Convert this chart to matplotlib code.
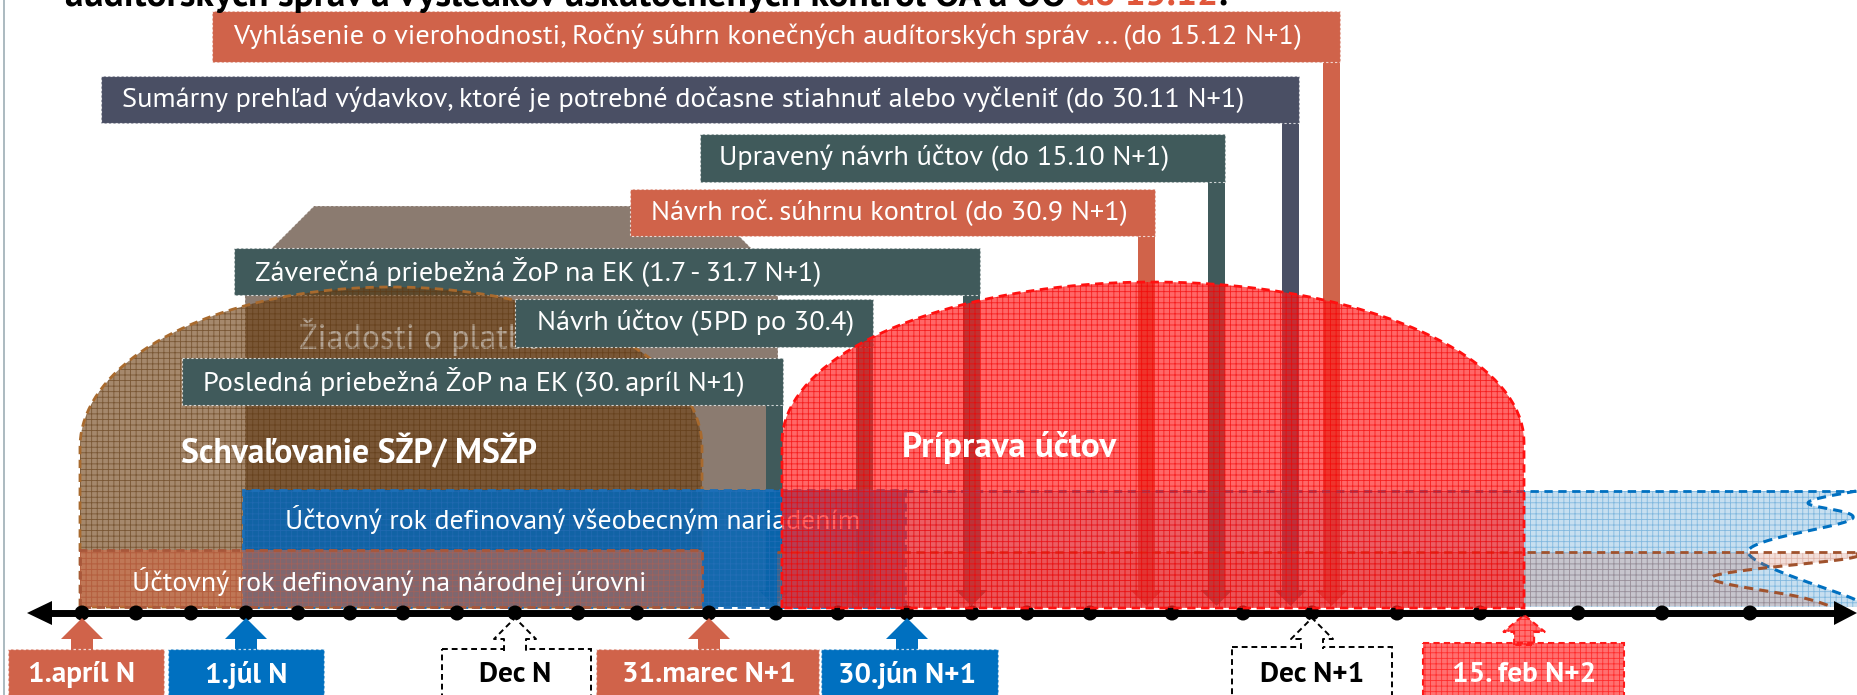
import matplotlib
matplotlib.use("Agg")
import matplotlib.pyplot as plt
from matplotlib.patches import Polygon, Rectangle, Circle
import numpy as np

# ---------------- data ----------------
title_main = "auditorských správ a výsledkov uskutočnených kontrol OA a OO"
title_red = "do 15.12"
title_end = "."

# timeline: one dot per month, apríl N ... máj N+2
timeline_months = ["apr N", "máj N", "jún N", "júl N", "aug N", "sep N", "okt N", "nov N", "dec N",
                   "jan N+1", "feb N+1", "mar N+1", "apr N+1", "máj N+1", "jún N+1", "júl N+1",
                   "aug N+1", "sep N+1", "okt N+1", "nov N+1", "dec N+1", "jan N+2", "feb N+2",
                   "mar N+2", "apr N+2", "máj N+2"]

deadline_labels = [
    "Vyhlásenie o vierohodnosti, Ročný súhrn konečných audítorských správ ... (do 15.12 N+1)",
    "Sumárny prehľad výdavkov, ktoré je potrebné dočasne stiahnuť alebo vyčleniť (do 30.11 N+1)",
    "Upravený návrh účtov (do 15.10 N+1)",
    "Návrh roč. súhrnu kontrol (do 30.9 N+1)",
    "Záverečná priebežná ŽoP na EK (1.7 - 31.7 N+1)",
    "Návrh účtov (5PD po 30.4)",
    "Posledná priebežná ŽoP na EK (30. apríl N+1)",
]
deadline_kind = ["orange", "navy", "teal", "orange", "teal", "teal", "teal"]

marker_labels = ["1.apríl N", "1.júl N", "Dec N", "31.marec N+1", "30.jún N+1", "Dec N+1", "15. feb N+2"]
marker_month = [0, 3, 8, 11, 14, 20, 22.45]
marker_kind = ["orange", "blue", "white", "orange", "blue", "white", "red"]

phase_labels = ["Schvaľovanie SŽP/ MSŽP", "Príprava účtov"]
band_labels = ["Účtovný rok definovaný všeobecným nariadením", "Účtovný rok definovaný na národnej úrovni"]
payment_label = "Žiadosti o platbu"

# ---------------- layout / style ----------------
W, H = 1858, 695
FONT = ["PT Sans", "Lato", "DejaVu Sans"]
COL = {"orange": "#D0634A", "navy": "#4A4F64", "teal": "#405A5B", "blue": "#0070C0",
       "white": "#FFFFFF", "red": "#FF3030"}
DOT_X = [82, 136, 191, 246, 298, 350, 403, 457, 515, 578, 637, 709, 776, 838, 907, 972,
         1027, 1090, 1172, 1243, 1312, 1397, 1480, 1578, 1662, 1750]
AXIS_Y = 613
# deadline boxes: x0, x1, y0, y1, text x
BOXES = [(212, 1340, 11, 62, 233), (101, 1299, 76, 123, 122), (700, 1225, 134, 182, 719),
         (630, 1155, 189, 236, 651), (234, 980, 248, 295, 255), (515, 873, 299, 347, 537),
         (182, 783, 358, 405, 203)]
MBOX = [(8, 164, 649), (168, 324, 649), (442, 591, 649), (596, 819, 649), (821, 998, 649),
        (1232, 1392, 647), (1423, 1624, 643)]

fig = plt.figure(figsize=(W / 100, H / 100), dpi=100)
ax = fig.add_axes([0, 0, 1, 1])
ax.set_xlim(0, W)
ax.set_ylim(H, 0)
ax.axis("off")
R = fig.canvas.get_renderer()
plt.rcParams["hatch.linewidth"] = 0.6


def fit_size(s, target, weight="normal", base=20.0):
    t = ax.text(0, 0, s, fontsize=base, family=FONT, fontweight=weight)
    w = t.get_window_extent(renderer=R).width
    t.remove()
    return base * target / w


def text_w(s, size, weight="normal"):
    t = ax.text(0, 0, s, fontsize=size, family=FONT, fontweight=weight)
    w = t.get_window_extent(renderer=R).width
    t.remove()
    return w


def smooth(pts, n=24):
    P = np.asarray(pts, float)
    P = np.vstack([P[0], P, P[-1]])
    out = []
    t = np.linspace(0, 1, n, endpoint=False)[:, None]
    for i in range(1, len(P) - 2):
        p0, p1, p2, p3 = P[i - 1], P[i], P[i + 1], P[i + 2]
        out.append(0.5 * ((2 * p1) + (-p0 + p2) * t + (2 * p0 - 5 * p1 + 4 * p2 - p3) * t ** 2
                          + (-p0 + 3 * p1 - 3 * p2 + p3) * t ** 3))
    out.append(P[-2][None])
    return np.vstack(out)


def textured(verts, face, hatch_col, z, edge=None, lw=2.0, ls=(0, (3, 2)), hatch="+++"):
    ax.add_patch(Polygon(verts, closed=True, facecolor=face, edgecolor="none", zorder=z))
    ax.add_patch(Polygon(verts, closed=True, facecolor="none", edgecolor=hatch_col, lw=0,
                         hatch=hatch, zorder=z + 0.02))
    if edge is not None:
        ax.add_patch(Polygon(verts, closed=True, facecolor="none", edgecolor=edge, lw=lw,
                             linestyle=ls, zorder=z + 0.03))


def dome(x0, x1, ytop, yside, ybot):
    th = np.linspace(np.pi, 0, 80)
    cx, a, b = (x0 + x1) / 2, (x1 - x0) / 2, yside - ytop
    arc = np.column_stack([cx + a * np.cos(th), yside - b * np.sin(th)])
    return np.vstack([[x0, ybot], arc, [x1, ybot]])


month_x = lambda m: np.interp(m, np.arange(len(timeline_months)), DOT_X)

# left slide border
ax.plot([4, 4], [0, H], color="#9DAEB5", lw=1.2, zorder=0.5)

# ---------------- title (cut at top) ----------------
ts = fit_size(title_main + " " + title_red + title_end, 1160, "bold")
sp = text_w("a a", ts, "bold") - text_w("aa", ts, "bold")
x = 65
TY = 6
ax.text(x, TY, title_main, fontsize=ts, family=FONT, fontweight="bold", color="black",
        va="baseline", ha="left", zorder=10)
x += text_w(title_main, ts, "bold") + sp
ax.text(x, TY, title_red, fontsize=ts, family=FONT, fontweight="bold", color="#E0563A",
        va="baseline", ha="left", zorder=10)
x += text_w(title_red, ts, "bold")
ax.text(x, TY, title_end, fontsize=ts, family=FONT, fontweight="bold", color="black",
        va="baseline", ha="left", zorder=10)

# ---------------- gray payment-request shape ----------------
gx0, gx1, gy0, gy1, ch = 245, 778, 206, 607, 69
gray = [(gx0, gy1), (gx0, gy0 + ch), (gx0 + ch, gy0), (gx1 - ch, gy0), (gx1, gy0 + ch), (gx1, gy1)]
ax.add_patch(Polygon(gray, closed=True, facecolor="#8B7B70", edgecolor=(1, 1, 1, 0.6), lw=0.8,
                     linestyle=(0, (2, 2)), zorder=1))
box_fs = fit_size(deadline_labels[0], 1066)

# ---------------- deadline boxes with connectors ----------------
BAR_W, HEAD_HW, HEAD_L, TIP = 17, 16, 16, 606
for lab, kind, (x0, x1, y0, y1, tx) in zip(deadline_labels, deadline_kind, BOXES):
    c = COL[kind]
    xc = x1 - BAR_W / 2
    conn = [(x1 - BAR_W, y1 - 1), (x1 - BAR_W, TIP - HEAD_L), (xc - HEAD_HW, TIP - HEAD_L), (xc, TIP),
            (xc + HEAD_HW, TIP - HEAD_L), (x1, TIP - HEAD_L), (x1, y1 - 1)]
    ax.add_patch(Polygon(conn, closed=True, facecolor=c, edgecolor="none", zorder=2))
    zb = 2.5 if lab.startswith("Záverečná") else 4
    ax.add_patch(Rectangle((x0, y0), x1 - x0, y1 - y0, facecolor=c, edgecolor=(1, 1, 1, 0.75),
                           lw=0.8, linestyle=(0, (2, 2)), zorder=zb))
    ax.text(tx, (y0 + y1) / 2, lab, fontsize=box_fs, family=FONT, color="white",
            va="center", ha="left", zorder=zb + 0.1)

# ---------------- brown dome (approval) ----------------
textured(dome(80, 702, 287, 447, 607), (0.43, 0.25, 0.07, 0.62), (0.36, 0.21, 0.06, 0.6), 3,
         edge="#A86A2E")
ax.text(299, 337, payment_label, fontsize=box_fs * 1.2, family=FONT, color="#B3A393",
        va="center", ha="left", zorder=3.01)

# ---------------- accounting-year bands ----------------
# blue (general regulation)
textured([(243, 607), (243, 490), (905, 490), (905, 607)], (0.0, 0.40, 0.72, 0.86),
         (0.2, 0.45, 0.75, 0.5), 5, edge="#1C6FB8", ls=(0, (3, 2)))
wave_b = smooth([(1856, 491), (1808, 503), (1852, 519), (1748, 552), (1856, 600), (1858, 607)])
textured(np.vstack([[(905, 607), (905, 491)], wave_b]), (0.0, 0.44, 0.75, 0.22),
         (0.0, 0.44, 0.75, 0.35), 5)
ax.plot([905, 1856], [491, 491], color="#0070C0", lw=2, ls=(0, (3, 2)), zorder=5.05)
ax.plot(wave_b[:, 0], wave_b[:, 1], color="#0070C0", lw=2.2, ls=(0, (3, 2)), zorder=5.05)

# national
textured([(80, 607), (80, 550), (702, 550), (702, 607)], (0.84, 0.42, 0.27, 0.56),
         (0.75, 0.35, 0.25, 0.45), 6, edge="#A9573A", ls=(0, (3, 2)))
wave_n = smooth([(1857, 553), (1845, 559), (1712, 577), (1800, 597), (1830, 606)])
textured(np.vstack([[(777, 607), (777, 552)], wave_n]), (0.78, 0.42, 0.32, 0.22),
         (0.70, 0.35, 0.25, 0.3), 6)
ax.plot([777, 1857], [552, 552], color="#A0522D", lw=2, ls=(0, (3, 2)), zorder=6.05)
ax.plot(wave_n[:, 0], wave_n[:, 1], color="#A0522D", lw=2.2, ls=(0, (3, 2)), zorder=6.05)

band_fs = fit_size(band_labels[1], 514)
ax.text(285, 520, band_labels[0], fontsize=fit_size(band_labels[0], 575), family=FONT,
        color="white", va="center", ha="left", zorder=6.3)
ax.text(132, 582, band_labels[1], fontsize=band_fs, family=FONT, color="white",
        va="center", ha="left", zorder=6.3)

# ---------------- timeline axis ----------------
ax.plot([45, 1840], [AXIS_Y, AXIS_Y], color="black", lw=5, solid_capstyle="butt", zorder=6.5)
ax.add_patch(Polygon([(27, AXIS_Y), (52, AXIS_Y - 12), (52, AXIS_Y + 12)], closed=True,
                     facecolor="black", edgecolor="none", zorder=6.5))
ax.add_patch(Polygon([(1857, AXIS_Y), (1834, AXIS_Y - 12), (1834, AXIS_Y + 12)], closed=True,
                     facecolor="black", edgecolor="none", zorder=6.5))
for m in range(len(timeline_months)):
    ax.add_patch(Circle((month_x(m), AXIS_Y), 7.5, facecolor="black", edgecolor="none", zorder=6.6))

# ---------------- red dome (preparation of accounts) ----------------
textured(dome(782, 1524, 282, 442, 608), (1.0, 0.12, 0.12, 0.68), (0.95, 0.0, 0.0, 0.7), 7,
         edge="#FF1010")

# phase labels
ax.text(181, 452, phase_labels[0], fontsize=fit_size(phase_labels[0], 356, "bold"), family=FONT,
        fontweight="bold", color="white", va="center", ha="left", zorder=8)
ax.text(902, 448, phase_labels[1], fontsize=fit_size(phase_labels[1], 214, "bold"), family=FONT,
        fontweight="bold", color="white", va="center", ha="left", zorder=8)

# ---------------- bottom date markers ----------------
mk_fs = fit_size(marker_labels[3], 174, "bold")
for lab, m, kind, (bx0, bx1, btop) in zip(marker_labels, marker_month, marker_kind, MBOX):
    xm = float(month_x(m))
    tip = 618 if kind != "red" else 615
    hb = tip + 21 if kind != "red" else tip + 17
    shaft = 11 if kind != "red" else 10
    arrow = [(xm - shaft, btop + 2), (xm - shaft, hb), (xm - 21, hb), (xm, tip), (xm + 21, hb),
             (xm + shaft, hb), (xm + shaft, btop + 2)]
    if kind == "white":
        ax.add_patch(Rectangle((bx0, btop), bx1 - bx0, H + 10 - btop, facecolor="white",
                               edgecolor="black", lw=1.4, linestyle=(0, (3, 2)), zorder=9))
        ax.add_patch(Polygon(arrow, closed=True, facecolor="white", edgecolor="none", zorder=9.1))
        ax.plot([p[0] for p in arrow], [p[1] for p in arrow], color="black", lw=1.4,
                ls=(0, (3, 2)), zorder=9.2)
        tc = "black"
    elif kind == "red":
        for verts in ([(bx0, btop), (bx1, btop), (bx1, H + 10), (bx0, H + 10)], arrow):
            textured(verts, (1.0, 0.2, 0.2, 0.7), (1.0, 0.0, 0.0, 0.6), 9, edge="#FF1A1A", lw=1.5)
        tc = "white"
    else:
        ax.add_patch(Polygon(arrow, closed=True, facecolor=COL[kind], edgecolor="none", zorder=9))
        ax.add_patch(Rectangle((bx0, btop), bx1 - bx0, H + 10 - btop, facecolor=COL[kind],
                               edgecolor=(1, 1, 1, 0.75), lw=0.9, linestyle=(0, (2, 2)), zorder=9))
        tc = "white"
    ax.text(xm, 675, lab, fontsize=mk_fs, family=FONT, fontweight="bold", color=tc,
            va="center", ha="center", zorder=9.5)

fig.savefig("out.png", dpi=100)
